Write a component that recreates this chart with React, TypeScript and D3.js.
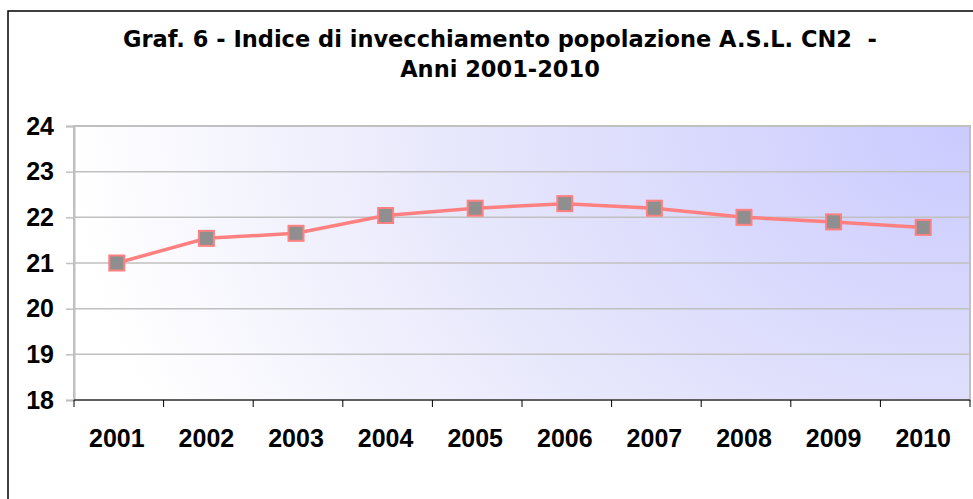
import { useEffect, useRef } from 'react';
import * as d3 from 'd3';

const years = ['2001', '2002', '2003', '2004', '2005', '2006', '2007', '2008', '2009', '2010'];
const indexValues = [21.0, 21.54, 21.65, 22.04, 22.2, 22.3, 22.2, 22.0, 21.9, 21.78];
const yTicks = [18, 19, 20, 21, 22, 23, 24];
const titleLines = ['Graf. 6 - Indice di invecchiamento popolazione A.S.L. CN2  -', 'Anni 2001-2010'];

const App = () => {
  const svgRef = useRef<SVGSVGElement | null>(null);

  useEffect(() => {
    if (!svgRef.current) return;
    d3.select(svgRef.current).selectAll('*').remove();

    const width = 973;
    const height = 499;
    const plot = { left: 74, right: 970, top: 126, bottom: 400 };

    const svg = d3.select(svgRef.current)
      .attr('width', width)
      .attr('height', height);

    // background gradient (bluish in the top right corner, fading to white)
    const defs = svg.append('defs');
    const grad = defs.append('radialGradient')
      .attr('id', 'bgGrad')
      .attr('gradientUnits', 'userSpaceOnUse')
      .attr('cx', plot.right)
      .attr('cy', plot.top)
      .attr('r', 900)
      .attr('gradientTransform', `translate(${plot.right},${plot.top}) scale(1,0.75) translate(${-plot.right},${-plot.top})`);
    grad.append('stop').attr('offset', '0%').attr('stop-color', '#cacaff');
    grad.append('stop').attr('offset', '55%').attr('stop-color', '#e6e6fc');
    grad.append('stop').attr('offset', '100%').attr('stop-color', '#ffffff');

    svg.append('rect')
      .attr('width', width).attr('height', height).attr('fill', '#fff');

    // outer frame
    svg.append('rect')
      .attr('x', 8).attr('y', 11)
      .attr('width', 980).attr('height', 500)
      .attr('fill', 'none')
      .attr('stroke', '#000')
      .attr('stroke-width', 1.5);

    const x = d3.scaleBand().domain(years).range([plot.left, plot.right]);
    const y = d3.scaleLinear().domain([18, 24]).range([plot.bottom, plot.top]);

    svg.append('rect')
      .attr('x', plot.left).attr('y', plot.top)
      .attr('width', plot.right - plot.left).attr('height', plot.bottom - plot.top)
      .attr('fill', 'url(#bgGrad)')
      .attr('stroke', '#c0c0c0')
      .attr('stroke-width', 2);

    // grid lines
    svg.append('g')
      .selectAll('line')
      .data(yTicks.slice(1))
      .join('line')
      .attr('x1', plot.left).attr('x2', plot.right)
      .attr('y1', (d) => y(d)).attr('y2', (d) => y(d))
      .attr('stroke', '#c0c0c0')
      .attr('stroke-width', 1.5);

    // y axis
    const yAxis = svg.append('g')
      .attr('transform', `translate(${plot.left},0)`)
      .call(d3.axisLeft(y).tickValues(yTicks).tickSize(8).tickPadding(12).tickFormat(d3.format('d')));
    yAxis.select('.domain').attr('stroke', '#c0c0c0').attr('stroke-width', 2);
    yAxis.selectAll('.tick line').attr('stroke', '#c0c0c0').attr('stroke-width', 1.5);
    yAxis.selectAll('text')
      .attr('font-family', '"Liberation Sans", Arial, sans-serif')
      .attr('font-weight', 'bold')
      .attr('font-size', '25px')
      .attr('fill', '#000');

    // x axis
    const xAxisG = svg.append('g').attr('transform', `translate(0,${plot.bottom})`);
    xAxisG.append('line')
      .attr('x1', plot.left).attr('x2', plot.right)
      .attr('stroke', '#000').attr('stroke-width', 1);
    const bounds = years.map((d) => x(d) as number).concat([plot.right]);
    xAxisG.selectAll('line.tk')
      .data(bounds)
      .join('line')
      .attr('class', 'tk')
      .attr('x1', (d) => d).attr('x2', (d) => d)
      .attr('y1', 0).attr('y2', 7)
      .attr('stroke', '#000').attr('stroke-width', 1);
    xAxisG.selectAll('text')
      .data(years)
      .join('text')
      .attr('x', (d) => (x(d) as number) + x.bandwidth() / 2 - 2)
      .attr('y', 47)
      .attr('text-anchor', 'middle')
      .attr('font-family', '"Liberation Sans", Arial, sans-serif')
      .attr('font-weight', 'bold')
      .attr('font-size', '25px')
      .text((d) => d);

    // line
    const pts = years.map((d, i) => [(x(d) as number) + x.bandwidth() / 2 - 2, y(indexValues[i])] as [number, number]);
    svg.append('path')
      .attr('d', d3.line()(pts) as string)
      .attr('fill', 'none')
      .attr('stroke', '#ff8080')
      .attr('stroke-width', 3.5);

    svg.append('g')
      .selectAll('rect')
      .data(pts)
      .join('rect')
      .attr('x', (d) => d[0] - 7.5)
      .attr('y', (d) => d[1] - 7.5)
      .attr('width', 15)
      .attr('height', 15)
      .attr('fill', '#8f8f8f')
      .attr('stroke', '#ff8080')
      .attr('stroke-width', 2);

    // title
    svg.append('g')
      .selectAll('text')
      .data(titleLines)
      .join('text')
      .attr('x', 500)
      .attr('y', (_d, i) => 47 + i * 30)
      .attr('text-anchor', 'middle')
      .attr('font-family', '"DejaVu Sans", Verdana, sans-serif')
      .attr('font-weight', 'bold')
      .attr('font-size', '22.5px')
      .style('white-space', 'pre')
      .text((d) => d);
  }, []);

  return (
    <svg ref={svgRef} style={{ position: 'absolute', left: 0, top: 0, display: 'block' }}></svg>
  );
};

export default App;
